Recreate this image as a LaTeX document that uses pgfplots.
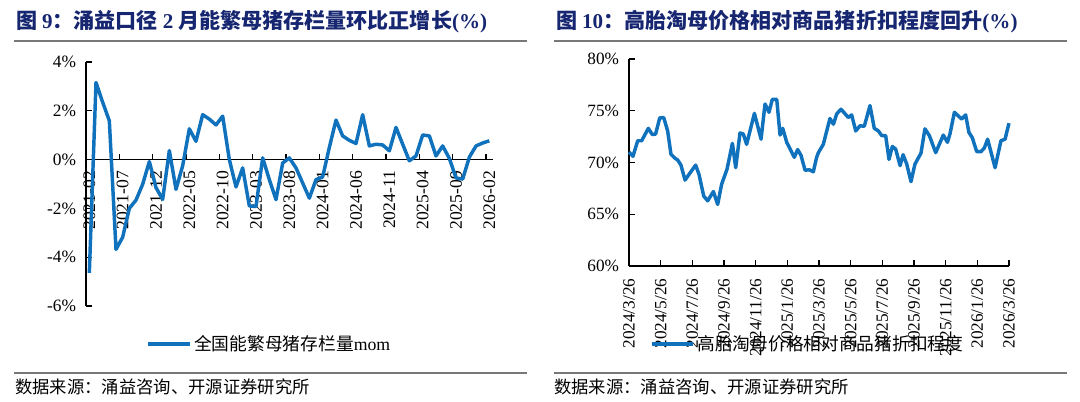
\documentclass[border=0pt]{standalone}
\usepackage{pgfplots}
\pgfplotsset{compat=1.18}
\usepackage{fontspec}
\setmainfont{Liberation Serif}
\newfontfamily\cjk{Noto Sans CJK SC}
\definecolor{navy}{RGB}{22,38,112}
\definecolor{lineblue}{RGB}{16,114,189}
\definecolor{rulegray}{RGB}{120,120,120}
\pgfplotstableread{
i v
0 -4.64
1 3.16
2 2.35
3 1.59
4 -3.68
5 -3.18
6 -2.0
7 -1.66
8 -1.01
9 -0.08
10 -1.15
11 -1.63
12 0.37
13 -1.22
14 -0.25
15 1.26
16 0.75
17 1.84
18 1.66
19 1.42
20 1.78
21 0.0
22 -1.12
23 -0.34
24 -1.9
25 -1.92
26 0.07
27 -0.82
28 -1.64
29 -0.14
30 0.07
31 -0.34
32 -0.96
33 -1.58
34 -0.82
35 -0.71
36 0.5
37 1.62
38 0.97
39 0.79
40 0.66
41 1.84
42 0.56
43 0.63
44 0.6
45 0.36
46 1.32
47 0.63
48 -0.05
49 0.15
50 1.01
51 0.97
52 0.15
53 0.56
54 0.05
55 -0.75
56 -0.8
57 0.1
58 0.56
59 0.68
60 0.77
}\mom
\pgfplotstableread{
m v
0 71.0
0.25 70.6
0.55 72.1
0.80 72.1
1.22 73.3
1.47 72.7
1.68 72.75
1.94 74.3
2.19 74.35
2.44 73.05
2.65 70.8
2.91 70.4
3.07 70.25
3.28 69.75
3.54 68.3
3.79 68.85
4.21 69.75
4.42 68.85
4.72 66.75
4.97 66.3
5.33 67.2
5.60 65.95
5.85 67.9
6.19 69.35
6.53 71.85
6.74 69.5
7.01 72.85
7.22 72.75
7.43 71.75
7.92 74.75
8.34 72.25
8.59 75.65
8.84 74.85
9.05 76.1
9.33 76.1
9.54 72.65
9.71 73.3
9.96 71.95
10.44 70.5
10.65 71.25
10.86 70.7
11.12 69.25
11.39 69.3
11.64 69.1
11.85 70.5
11.96 70.95
12.27 71.75
12.69 74.25
12.91 73.7
13.12 74.7
13.39 75.15
13.85 74.35
14.06 74.6
14.32 73.05
14.59 73.55
14.86 73.5
15.22 75.5
15.49 73.3
15.75 73.05
15.96 72.6
16.21 72.6
16.42 70.3
16.63 71.55
16.84 71.3
17.12 69.7
17.31 70.75
17.54 69.85
17.81 68.15
18.06 69.85
18.44 70.9
18.69 73.25
18.97 72.6
19.37 70.95
19.85 72.65
20.11 71.95
20.27 72.75
20.55 74.85
21.01 74.2
21.26 74.6
21.47 72.9
21.68 72.4
21.96 71.05
22.23 71.05
22.44 71.4
22.65 72.25
23.12 69.5
23.49 72.1
23.75 72.25
24.0 73.8
}\disc
\newcommand{\lat}[1]{{\rmfamily\bfseries #1}}
\begin{document}
\begin{tikzpicture}[x=0.75pt,y=-0.75pt]
\path[use as bounding box] (0,0) rectangle (1080,402);
% titles
\node[anchor=west, text=navy, inner sep=0] at (16,22) {\fontsize{15.8}{16}\selectfont\cjk\bfseries 图 \lat{9}：涌益口径 \lat{2} 月能繁母猪存栏量环比正增长\lat{(\%)}};
\node[anchor=west, text=navy, inner sep=0] at (556,22) {\fontsize{15.8}{16}\selectfont\cjk\bfseries 图 \lat{10}：高胎淘母价格相对商品猪折扣程度回升\lat{(\%)}};
\draw[rulegray, line width=1.1pt] (14,41) -- (527,41);
\draw[rulegray, line width=1.1pt] (554,41) -- (1067,41);
\draw[rulegray, line width=1.1pt] (14,373) -- (527,373);
\draw[rulegray, line width=1.1pt] (554,373) -- (1067,373);
\node[anchor=west, inner sep=0] at (15,387) {\fontsize{13}{14}\selectfont\cjk 数据来源：涌益咨询、开源证券研究所};
\node[anchor=west, inner sep=0] at (554,387) {\fontsize{13}{14}\selectfont\cjk 数据来源：涌益咨询、开源证券研究所};

% left chart
\begin{axis}[
  at={(64.5pt,-46.5pt)}, anchor=north west,
  scale only axis, width=305pt, height=183pt,
  xmin=-0.5, xmax=60.5, ymin=-6, ymax=4,
  axis x line=middle, axis y line=left,
  axis line style={-, black, line width=0.9pt},
  hide obscured x ticks=false, hide obscured y ticks=false,
  tick align=inside, major tick length=4.5pt,
  tick style={black, line width=0.9pt},
  xtick={-0.5,4.5,...,60},
  xticklabels={2021-02,2021-07,2021-12,2022-05,2022-10,2023-03,2023-08,2024-01,2024-06,2024-11,2025-04,2025-09,2026-02},
  xticklabel style={font=\fontsize{13.2}{13}\selectfont, xshift=2.5pt, rotate=90, anchor=east, xshift=-5pt},
  ytick={-6,-4,...,4},
  yticklabels={-6\%,-4\%,-2\%,0\%,2\%,4\%},
  yticklabel style={font=\fontsize{13}{13}\selectfont, xshift=-4pt},
  clip=false,
  legend style={at={(0.452,-0.156)}, anchor=center, draw=none, fill=none,
    font=\fontsize{13.3}{14}\selectfont, inner sep=0pt},
  legend image code/.code={\draw[#1] (0pt,0pt) -- (31pt,0pt);},
]
\addplot[lineblue, line width=2.6pt, line join=round] table[x=i,y=v]{\mom};
\addlegendentry{{\cjk 全国能繁母猪存栏量}mom}
\end{axis}

% right chart
\begin{axis}[
  at={(471.75pt,-44.25pt)}, anchor=north west,
  scale only axis, width=285pt, height=155.25pt,
  xmin=0, xmax=24, ymin=60, ymax=80,
  axis x line=bottom, axis y line=left,
  axis line style={-, black, line width=0.9pt},
  tick align=inside, major tick length=4.5pt,
  tick style={black, line width=0.9pt},
  xtick={0,2,...,24},
  xticklabels={2024/3/26,2024/5/26,2024/7/26,2024/9/26,2024/11/26,2025/1/26,2025/3/26,2025/5/26,2025/7/26,2025/9/26,2025/11/26,2026/1/26,2026/3/26},
  xticklabel style={font=\fontsize{12.9}{13}\selectfont, rotate=90, anchor=east, xshift=-6pt},
  ytick={60,65,...,80},
  yticklabels={60\%,65\%,70\%,75\%,80\%},
  yticklabel style={font=\fontsize{12.9}{13}\selectfont, xshift=-4pt},
  clip=false,
  legend style={at={(0.471,-0.377)}, anchor=center, draw=none, fill=none,
    font=\fontsize{13.3}{14}\selectfont, inner sep=0pt},
  legend image code/.code={\draw[#1] (0pt,0pt) -- (31pt,0pt);},
]
\addplot[lineblue, line width=2.6pt, line join=round] table[x=m,y=v]{\disc};
\addlegendentry{\cjk 高胎淘母价格相对商品猪折扣程度}
\end{axis}
\end{tikzpicture}
\end{document}
